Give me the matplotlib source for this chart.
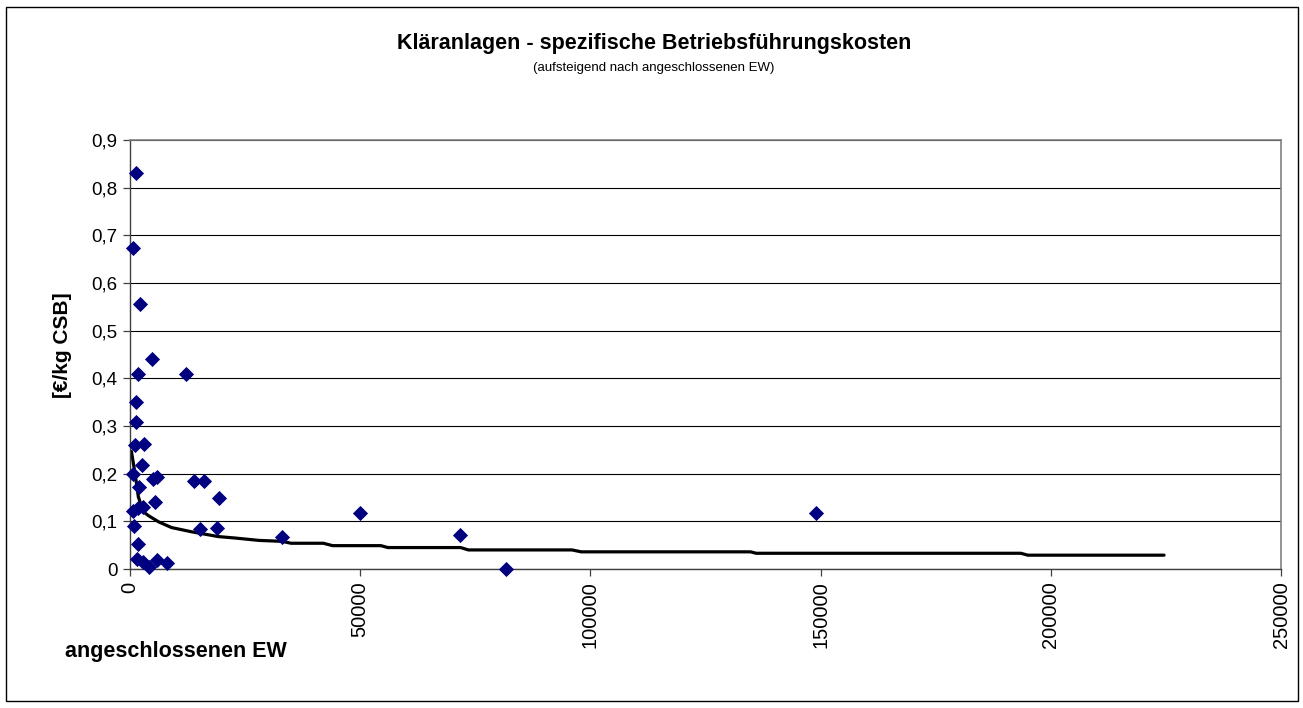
import matplotlib
matplotlib.use("Agg")
import matplotlib.pyplot as plt
from matplotlib.patches import Rectangle
from matplotlib.ticker import FuncFormatter, MultipleLocator

plt.rcParams['font.family'] = ['Liberation Sans', 'DejaVu Sans']

# Connected population equivalents (EW) and specific operating costs per plant
ew = [1240, 720, 2170, 4710, 12170, 1810, 1300, 1300, 1090, 3100,
      2680, 720, 1960, 5060, 5800, 5430, 720, 1810, 2760, 870,
      1670, 1590, 2900, 4130, 5800, 7970, 13900, 16090, 19420, 15220,
      18980, 32970, 50000, 71740, 81740, 148900]
cost = [0.830, 0.674, 0.556, 0.440, 0.410, 0.410, 0.351, 0.309, 0.260, 0.263,
        0.218, 0.200, 0.171, 0.188, 0.194, 0.141, 0.122, 0.127, 0.131, 0.090,
        0.052, 0.022, 0.015, 0.005, 0.019, 0.012, 0.184, 0.184, 0.150, 0.083,
        0.087, 0.068, 0.117, 0.071, 0.000, 0.117]

# Cost curve over the connected EW
trend_ew = [300, 1100, 1800, 2900, 4000, 6200, 9000, 13400, 19200, 22800,
            28000, 33000, 35000, 42000, 44000, 54500, 56000, 71800, 73500,
            96000, 98000, 134800, 136000, 193500, 195000, 224600]
trend = [0.247, 0.200, 0.152, 0.120, 0.112, 0.099, 0.087, 0.078, 0.068, 0.065,
         0.060, 0.058, 0.054, 0.054, 0.049, 0.049, 0.045, 0.045, 0.040,
         0.040, 0.036, 0.036, 0.033, 0.033, 0.029, 0.029]

x_ticks = [0, 50000, 100000, 150000, 200000, 250000]

W, H = 1303, 708
fig = plt.figure(figsize=(W / 100, H / 100), dpi=100)
fig.patch.set_facecolor('white')

# outer chart frame
fig.patches.append(Rectangle((6 / W, 7 / H), (1298 - 6) / W, (701 - 7) / H,
                             transform=fig.transFigure, fill=False,
                             edgecolor='black', linewidth=1.0))

left, right, top, bottom = 130, 1281, 140, 569
ax = fig.add_axes([left / W, (H - bottom) / H, (right - left) / W, (bottom - top) / H])

ax.plot(trend_ew, trend, color='black', linewidth=2.3, zorder=2,
        solid_joinstyle='round', solid_capstyle='round')
ax.plot(ew, cost, linestyle='none', marker='D', markersize=6.8,
        markerfacecolor='#000080', markeredgecolor='#000080',
        markeredgewidth=0.6, zorder=3, clip_on=False)

ax.set_xlim(0, 250000)
ax.set_ylim(0, 0.9)
ax.set_xticks(x_ticks)
ax.yaxis.set_major_locator(MultipleLocator(0.1))
ax.yaxis.set_major_formatter(FuncFormatter(
    lambda v, p: '0' if abs(v) < 1e-9 else f'{v:.1f}'.replace('.', ',')))
ax.xaxis.set_major_formatter(FuncFormatter(lambda v, p: f'{int(round(v))}'))

ax.grid(axis='y', color='black', linewidth=0.8)
ax.set_axisbelow(True)

for side in ('top', 'right'):
    ax.spines[side].set_color('#808080')
    ax.spines[side].set_linewidth(1.2)
for side in ('left', 'bottom'):
    ax.spines[side].set_color('#404040')
    ax.spines[side].set_linewidth(1.0)

ax.tick_params(axis='both', direction='out', length=5, width=0.9,
               color='#404040')
ax.tick_params(axis='y', labelsize=13.5, pad=4)
ax.tick_params(axis='x', labelsize=14.5, labelrotation=90, pad=4)

fig.text(654 / W, 1 - 43 / H, 'Kläranlagen - spezifische Betriebsführungskosten',
         ha='center', va='center', fontsize=15.5, fontweight='bold')
fig.text(654 / W, 1 - 68 / H, '(aufsteigend nach angeschlossenen EW)',
         ha='center', va='center', fontsize=9.5)
fig.text(62 / W, 1 - 345 / H, '[€/kg CSB]', rotation=90,
         ha='center', va='center', fontsize=15, fontweight='bold')
fig.text(65 / W, 1 - 652 / H, 'angeschlossenen EW',
         ha='left', va='center', fontsize=15.5, fontweight='bold')

fig.savefig('out.png', dpi=100, facecolor='white')
